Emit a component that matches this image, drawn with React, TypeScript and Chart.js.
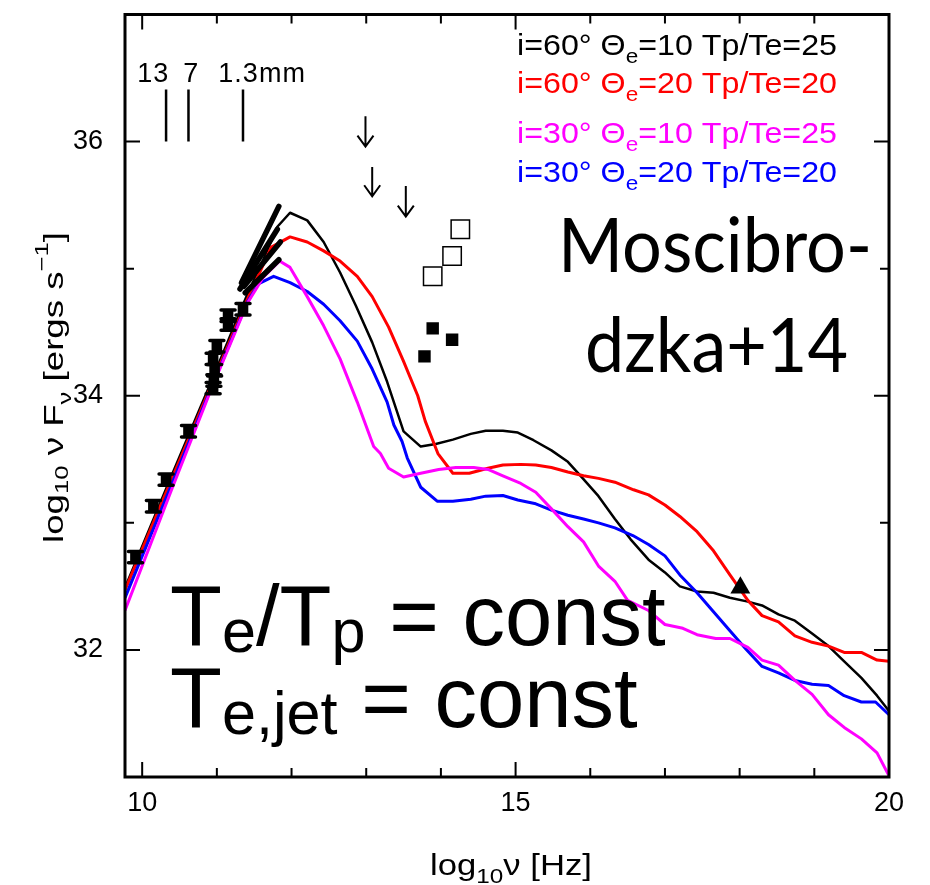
import React, { useEffect, useRef } from 'react';
import { Chart, registerables } from 'chart.js';

Chart.register(...registerables);

// ---------- axes ----------
const X_MIN = 9.77;
const X_MAX = 20;
const Y_MIN = 31;
const Y_MAX = 37;
const xTickValues = [10, 11, 12, 13, 14, 15, 16, 17, 18, 19, 20];
const xTickLabelled = [10, 15, 20];
const yTickValues = [31, 32, 33, 34, 35, 36, 37];
const yTickLabelled = [32, 34, 36];

// ---------- model curves ----------
const nuBlack = [9.77, 10.40, 10.91, 11.41, 11.62, 11.81, 11.98, 12.21, 12.43, 12.65, 12.86, 13.08, 13.28, 13.50, 13.73, 13.93, 14.16, 14.40, 14.60, 14.83, 15.03, 15.24, 15.48, 15.70, 15.87, 16.11, 16.33, 16.54, 16.78, 17.00, 17.20, 17.43, 17.65, 17.87, 18.11, 18.30, 18.52, 18.74, 18.97, 19.19, 19.40, 19.63, 19.84, 20.00];
const fluxBlack = [32.49, 33.38, 34.09, 34.80, 35.07, 35.33, 35.44, 35.38, 35.21, 34.97, 34.71, 34.42, 34.11, 33.72, 33.60, 33.62, 33.655, 33.70, 33.725, 33.725, 33.71, 33.65, 33.57, 33.48, 33.37, 33.21, 33.03, 32.87, 32.71, 32.61, 32.50, 32.46, 32.45, 32.41, 32.38, 32.35, 32.28, 32.23, 32.13, 32.03, 31.91, 31.78, 31.64, 31.52];

const nuRed = [9.77, 10.40, 10.91, 11.41, 11.73, 11.98, 12.21, 12.43, 12.65, 12.88, 13.08, 13.30, 13.50, 13.69, 13.79, 13.96, 14.16, 14.38, 14.63, 14.83, 15.07, 15.27, 15.48, 15.70, 15.91, 16.11, 16.33, 16.58, 16.78, 17.00, 17.20, 17.43, 17.65, 17.87, 18.11, 18.30, 18.52, 18.74, 18.97, 19.19, 19.40, 19.63, 19.84, 20.00];
const fluxRed = [32.47, 33.35, 34.06, 34.76, 35.17, 35.25, 35.21, 35.14, 35.06, 34.94, 34.78, 34.54, 34.27, 34.00, 33.80, 33.545, 33.39, 33.39, 33.43, 33.455, 33.46, 33.455, 33.435, 33.40, 33.37, 33.35, 33.32, 33.26, 33.22, 33.14, 33.05, 32.93, 32.78, 32.59, 32.39, 32.27, 32.22, 32.11, 32.06, 32.03, 31.98, 31.98, 31.92, 31.91];

const nuMagenta = [9.77, 10.40, 10.91, 11.41, 11.62, 11.84, 11.98, 12.21, 12.43, 12.65, 12.88, 13.10, 13.19, 13.30, 13.50, 13.73, 13.97, 14.20, 14.44, 14.63, 14.83, 15.07, 15.27, 15.48, 15.70, 15.91, 16.11, 16.33, 16.50, 16.78, 17.00, 17.24, 17.43, 17.68, 17.87, 18.11, 18.30, 18.52, 18.74, 18.97, 19.19, 19.40, 19.63, 19.84, 20.00];
const fluxMagenta = [32.31, 33.27, 34.03, 34.73, 34.93, 35.06, 35.01, 34.78, 34.55, 34.29, 33.95, 33.60, 33.545, 33.43, 33.36, 33.39, 33.42, 33.435, 33.435, 33.42, 33.37, 33.31, 33.24, 33.11, 32.97, 32.85, 32.66, 32.54, 32.39, 32.31, 32.20, 32.17, 32.12, 32.09, 32.09, 32.02, 31.92, 31.88, 31.76, 31.65, 31.49, 31.39, 31.30, 31.19, 31.01];

const nuBlue = [9.77, 10.40, 10.91, 11.41, 11.555, 11.76, 11.98, 12.21, 12.43, 12.65, 12.88, 13.08, 13.28, 13.37, 13.48, 13.55, 13.73, 13.95, 14.16, 14.40, 14.60, 14.83, 15.03, 15.27, 15.48, 15.70, 15.91, 16.11, 16.33, 16.57, 16.78, 17.00, 17.20, 17.43, 17.65, 17.87, 18.08, 18.30, 18.52, 18.74, 18.97, 19.19, 19.40, 19.63, 19.82, 20.00];
const fluxBlue = [32.41, 33.31, 34.04, 34.74, 34.88, 34.94, 34.89, 34.82, 34.72, 34.59, 34.43, 34.21, 33.95, 33.77, 33.64, 33.51, 33.28, 33.17, 33.17, 33.185, 33.21, 33.215, 33.18, 33.15, 33.10, 33.06, 33.03, 33.00, 32.96, 32.90, 32.83, 32.74, 32.59, 32.45, 32.30, 32.15, 32.01, 31.87, 31.82, 31.76, 31.73, 31.72, 31.64, 31.59, 31.59, 31.49];

// ---------- legend ----------
const seriesColors = ['#000000', '#ff0000', '#ff00ff', '#0000ff'];
const legendIncl = ['60', '60', '30', '30'];
const legendTheta = ['10', '20', '10', '20'];
const legendRatio = ['25', '20', '25', '20'];

// ---------- observations ----------
const obsNu = [9.91, 10.15, 10.32, 10.62, 11.00, 10.95, 10.97, 10.96, 10.95, 11.15, 11.15, 11.35];
const obsFlux = [32.73, 33.13, 33.34, 33.72, 34.39, 34.29, 34.20, 34.12, 34.06, 34.63, 34.56, 34.68];
const obsErr = [0.045, 0.045, 0.045, 0.045, 0.045, 0.045, 0.045, 0.045, 0.045, 0.045, 0.045, 0.045];

// spectral slope segments
const slopeNuStart = [11.33, 11.31, 11.36, 11.38];
const slopeFluxStart = [34.89, 34.84, 34.86, 34.81];
const slopeNuEnd = [11.83, 11.81, 11.85, 11.83];
const slopeFluxEnd = [35.49, 35.31, 35.21, 35.07];

// IR points
const openNu = [13.89, 14.15, 14.26];
const openFlux = [34.94, 35.10, 35.31];
const filledNu = [13.78, 13.89, 14.15];
const filledFlux = [34.31, 34.53, 34.44];
const triangleNu = [18.01];
const triangleFlux = [32.49];

// upper limits
const limitNu = [12.99, 13.08, 13.53];
const limitTop = [36.20, 35.80, 35.65];
const limitTip = [35.96, 35.57, 35.41];

// wavelength markers
const bandNu = [10.32, 10.62, 11.35];
const bandLow = [36.0, 36.0, 36.0];
const bandHigh = [36.41, 36.41, 36.41];
const bandLabels = ['13', '7', '1.3mm'];
const bandLabelNu = [9.935, 10.55, 11.02];
const bandLabelFlux = 36.47;

const SANS = '"Liberation Sans", Arial, Helvetica, sans-serif';
const GILL = 'Lato, "Open Sans", sans-serif';

type Seg = { t: string; s?: number; dy?: number };

function drawRich(
  ctx: CanvasRenderingContext2D,
  x: number,
  y: number,
  segs: Seg[],
  size: number,
  family: string,
  color: string,
  target?: number,
  spacing = 0
) {
  ctx.save();
  (ctx as any).letterSpacing = spacing + 'px';
  let total = 0;
  const widths = segs.map((sg) => {
    ctx.font = `${size * (sg.s ?? 1)}px ${family}`;
    const w = ctx.measureText(sg.t).width;
    total += w;
    return w;
  });
  ctx.translate(x, y);
  if (target) ctx.scale(target / total, 1);
  ctx.fillStyle = color;
  ctx.textAlign = 'left';
  ctx.textBaseline = 'alphabetic';
  let cx = 0;
  segs.forEach((sg, i) => {
    ctx.font = `${size * (sg.s ?? 1)}px ${family}`;
    ctx.fillText(sg.t, cx, sg.dy ?? 0);
    cx += widths[i];
  });
  ctx.restore();
}

const pts = (xs: number[], ys: number[]) => xs.map((x, i) => ({ x, y: ys[i] }));

const decorPlugin = {
  id: 'decor',
  afterDatasetsDraw(chart: any) {
    const ctx: CanvasRenderingContext2D = chart.ctx;
    const xs = chart.scales.x;
    const ys = chart.scales.y;
    ctx.save();
    ctx.strokeStyle = '#000';
    // error bars
    ctx.lineWidth = 3.5;
    ctx.lineCap = 'round';
    obsNu.forEach((nu, i) => {
      const px = xs.getPixelForValue(nu);
      const y0 = ys.getPixelForValue(obsFlux[i] - obsErr[i]);
      const y1 = ys.getPixelForValue(obsFlux[i] + obsErr[i]);
      ctx.beginPath();
      ctx.moveTo(px, y0);
      ctx.lineTo(px, y1);
      ctx.moveTo(px - 7, y0);
      ctx.lineTo(px + 7, y0);
      ctx.moveTo(px - 7, y1);
      ctx.lineTo(px + 7, y1);
      ctx.stroke();
    });
    // upper-limit arrows
    ctx.lineWidth = 2;
    ctx.lineCap = 'butt';
    limitNu.forEach((nu, i) => {
      const px = xs.getPixelForValue(nu);
      const top = ys.getPixelForValue(limitTop[i]);
      const tip = ys.getPixelForValue(limitTip[i]);
      ctx.beginPath();
      ctx.moveTo(px, top);
      ctx.lineTo(px, tip);
      ctx.moveTo(px - 8, tip - 11);
      ctx.lineTo(px, tip);
      ctx.lineTo(px + 8, tip - 11);
      ctx.stroke();
    });
    ctx.restore();
  },
  afterDraw(chart: any) {
    const ctx: CanvasRenderingContext2D = chart.ctx;
    const xs = chart.scales.x;
    const ys = chart.scales.y;
    const a = chart.chartArea;
    ctx.save();
    // frame
    ctx.strokeStyle = '#000';
    ctx.lineWidth = 3;
    ctx.strokeRect(a.left, a.top, a.right - a.left, a.bottom - a.top);
    // inward ticks on all four sides
    ctx.lineWidth = 2;
    ctx.beginPath();
    xTickValues.forEach((v) => {
      const px = xs.getPixelForValue(v);
      const len = xTickLabelled.includes(v) ? 15 : 9;
      ctx.moveTo(px, a.bottom);
      ctx.lineTo(px, a.bottom - len);
      ctx.moveTo(px, a.top);
      ctx.lineTo(px, a.top + len);
    });
    yTickValues.forEach((v) => {
      const py = ys.getPixelForValue(v);
      const len = yTickLabelled.includes(v) ? 15 : 9;
      ctx.moveTo(a.left, py);
      ctx.lineTo(a.left + len, py);
      ctx.moveTo(a.right, py);
      ctx.lineTo(a.right - len, py);
    });
    ctx.stroke();
    ctx.restore();

    // wavelength labels
    bandLabels.forEach((lab, i) => {
      drawRich(ctx, xs.getPixelForValue(bandLabelNu[i]), ys.getPixelForValue(bandLabelFlux), [{ t: lab }], 27, SANS, '#000', undefined, 1);
    });

    // legend
    const legendBase = [55, 93, 143, 182];
    legendIncl.forEach((inc, i) => {
      drawRich(
        ctx,
        517,
        legendBase[i],
        [
          { t: `i=${inc}° Θ` },
          { t: 'e', s: 0.7, dy: 8 },
          { t: `=${legendTheta[i]} Tp/Te=${legendRatio[i]}` },
        ],
        30,
        SANS,
        seriesColors[i],
        320
      );
    });

    // reference label
    drawRich(ctx, 558, 272, [{ t: 'Moscibro-' }], 75, GILL, '#000', 314);
    drawRich(ctx, 585, 372, [{ t: 'dzka+14' }], 75, GILL, '#000', 263);

    // big statements
    drawRich(
      ctx,
      170,
      645,
      [{ t: 'T' }, { t: 'e', s: 0.72, dy: 7 }, { t: '/T' }, { t: 'p', s: 0.72, dy: 7 }, { t: ' = const' }],
      85,
      SANS,
      '#000'
    );
    drawRich(
      ctx,
      170,
      727,
      [{ t: 'T' }, { t: 'e,jet', s: 0.72, dy: 7 }, { t: ' = const' }],
      85,
      SANS,
      '#000'
    );

    // x axis title
    drawRich(ctx, 430, 875, [{ t: 'log' }, { t: '10', s: 0.7, dy: 8 }, { t: 'ν [Hz]' }], 30, SANS, '#000', 162);

    // y axis title (rotated)
    ctx.save();
    ctx.translate(63, 543);
    ctx.rotate(-Math.PI / 2);
    drawRich(
      ctx,
      0,
      0,
      [
        { t: 'log' },
        { t: '10', s: 0.7, dy: 5 },
        { t: ' ν F' },
        { t: 'ν', s: 0.7, dy: 8 },
        { t: ' [ergs s' },
        { t: '−1', s: 0.7, dy: -15 },
        { t: ']' },
      ],
      27,
      SANS,
      '#000',
      311
    );
    ctx.restore();
  },
};

export default function App() {
  const canvasRef = useRef<HTMLCanvasElement | null>(null);

  useEffect(() => {
    const canvas = canvasRef.current;
    if (!canvas) return;

    const curve = (xs: number[], ys: number[], color: string, order: number, width: number) => ({
      type: 'line' as const,
      data: pts(xs, ys),
      borderColor: color,
      backgroundColor: color,
      borderWidth: width,
      pointRadius: 0,
      showLine: true,
      fill: false,
      tension: 0,
      borderJoinStyle: 'round' as const,
      order,
    });

    const segment = (x0: number, y0: number, x1: number, y1: number, width: number, cap: CanvasLineCap) => ({
      type: 'line' as const,
      data: [
        { x: x0, y: y0 },
        { x: x1, y: y1 },
      ],
      borderColor: '#000',
      borderWidth: width,
      borderCapStyle: cap,
      pointRadius: 0,
      showLine: true,
      fill: false,
      order: 1,
    });

    const datasets: any[] = [
      curve(nuBlack, fluxBlack, seriesColors[0], 6, 2.5),
      curve(nuRed, fluxRed, seriesColors[1], 5, 3),
      curve(nuBlue, fluxBlue, seriesColors[3], 4, 3),
      curve(nuMagenta, fluxMagenta, seriesColors[2], 3, 3),
      {
        type: 'scatter',
        data: pts(obsNu, obsFlux),
        pointStyle: 'rect',
        pointRadius: 7.5,
        backgroundColor: '#000',
        borderColor: '#000',
        borderWidth: 0,
        order: 1,
      },
      ...slopeNuStart.map((x0, i) => segment(x0, slopeFluxStart[i], slopeNuEnd[i], slopeFluxEnd[i], 5.5, 'round')),
      ...bandNu.map((x, i) => segment(x, bandLow[i], x, bandHigh[i], 2.5, 'butt')),
      {
        type: 'scatter',
        data: pts(openNu, openFlux),
        pointStyle: 'rect',
        pointRadius: 13,
        backgroundColor: 'rgba(255,255,255,0)',
        borderColor: '#000',
        borderWidth: 1.5,
        order: 1,
      },
      {
        type: 'scatter',
        data: pts(filledNu, filledFlux),
        pointStyle: 'rect',
        pointRadius: 8.8,
        backgroundColor: '#000',
        borderWidth: 0,
        order: 1,
      },
      {
        type: 'scatter',
        data: pts(triangleNu, triangleFlux),
        pointStyle: 'triangle',
        pointRadius: 11.5,
        backgroundColor: '#000',
        borderWidth: 0,
        order: 1,
      },
    ];

    const chart = new Chart(canvas, {
      type: 'scatter',
      data: { datasets },
      options: {
        animation: false,
        responsive: false,
        maintainAspectRatio: false,
        devicePixelRatio: 1,
        layout: { padding: { left: 0, right: 41, top: 14, bottom: 0 } },
        plugins: { legend: { display: false }, tooltip: { enabled: false } },
        scales: {
          x: {
            type: 'linear',
            min: X_MIN,
            max: X_MAX,
            afterFit: (s: any) => {
              s.height = 108;
              s.paddingLeft = 0;
              s.paddingRight = 0;
              s.paddingTop = 0;
              s.paddingBottom = 0;
            },
            afterBuildTicks: (s: any) => {
              s.ticks = xTickValues.map((v) => ({ value: v }));
            },
            ticks: {
              callback: (v: any) => (xTickLabelled.includes(Number(v)) ? String(v) : ''),
              font: { family: SANS, size: 27 },
              color: '#000',
              padding: 10,
              maxRotation: 0,
              autoSkip: false,
            },
            grid: { display: false, drawTicks: false },
            border: { display: false },
          },
          y: {
            type: 'linear',
            min: Y_MIN,
            max: Y_MAX,
            afterFit: (s: any) => {
              s.width = 125;
              s.paddingLeft = 0;
              s.paddingRight = 0;
              s.paddingTop = 0;
              s.paddingBottom = 0;
            },
            afterBuildTicks: (s: any) => {
              s.ticks = yTickValues.map((v) => ({ value: v }));
            },
            ticks: {
              callback: (v: any) => (yTickLabelled.includes(Number(v)) ? String(v) : ''),
              font: { family: SANS, size: 27 },
              color: '#000',
              padding: 22,
              autoSkip: false,
            },
            grid: { display: false, drawTicks: false },
            border: { display: false },
          },
        },
      },
      plugins: [decorPlugin],
    } as any);

    return () => chart.destroy();
  }, []);

  return (
    <div style={{ position: 'fixed', left: 0, top: 0, width: 930, height: 885, background: '#ffffff' }}>
      <canvas ref={canvasRef} width={930} height={885} style={{ width: 930, height: 885, display: 'block' }} />
    </div>
  );
}
